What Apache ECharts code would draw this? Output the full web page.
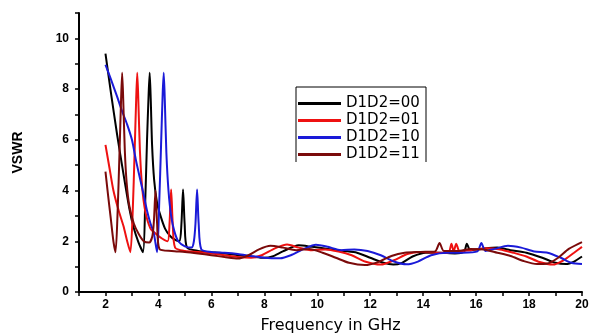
<!DOCTYPE html>
<html>
<head>
<meta charset="utf-8">
<script src="https://cdn.jsdelivr.net/npm/echarts@6/dist/echarts.min.js"></script>
<style>
  html, body { margin: 0; padding: 0; background: #fff; }
  #chart { width: 590px; height: 336px; }
</style>
</head>
<body>
<div id="chart"></div>
<script>
const seriesNames = ["D1D2=00", "D1D2=01", "D1D2=10", "D1D2=11"];

const freq00 = [2.0, 2.2, 2.44, 2.68, 2.9, 3.06, 3.25, 3.42, 3.5, 3.57, 3.63, 3.67, 3.71, 3.76, 3.84, 3.95, 4.08, 4.25, 4.45, 4.65, 4.8, 4.87, 4.93, 4.99, 5.08, 5.5, 6, 6.5, 7, 7.5, 8, 8.3, 8.7, 9.3, 9.8, 10.4, 11, 11.5, 12, 12.5, 12.87, 13.2, 13.6, 14.1, 14.6, 15.2, 15.55, 15.65, 15.78, 16.2, 16.8, 17.3, 17.9, 18.5, 19, 19.4, 19.7, 20];
const vswr00 = [9.4, 7.9, 6.2, 4.65, 3.3, 2.55, 1.95, 1.57, 3.5, 6.0, 7.8, 8.64, 7.6, 5.8, 4.4, 3.5, 3.0, 2.5, 2.2, 2.05, 2.0, 2.7, 4.04, 2.7, 1.75, 1.62, 1.57, 1.52, 1.45, 1.4, 1.35, 1.4, 1.6, 1.84, 1.78, 1.7, 1.62, 1.55, 1.35, 1.15, 1.08, 1.15, 1.4, 1.55, 1.55, 1.52, 1.6, 1.9, 1.65, 1.7, 1.75, 1.65, 1.55, 1.35, 1.15, 1.1, 1.2, 1.4];

const freq01 = [2.0, 2.15, 2.3, 2.5, 2.68, 2.82, 2.94, 3.03, 3.1, 3.16, 3.2, 3.24, 3.3, 3.38, 3.5, 3.7, 3.9, 4.15, 4.35, 4.42, 4.48, 4.54, 4.63, 5, 5.5, 6, 6.5, 7, 7.5, 7.9, 8.4, 8.86, 9.3, 9.8, 10.3, 10.8, 11.3, 11.8, 12.4, 12.9, 13.4, 13.9, 14.5, 14.95, 15.07, 15.15, 15.25, 15.38, 15.8, 16.4, 16.9, 17.4, 17.9, 18.4, 18.9, 19.3, 19.7, 20];
const vswr01 = [5.8, 4.9, 4.0, 3.2, 2.6, 2.0, 1.57, 3.2, 5.5, 7.6, 8.64, 7.6, 5.6, 4.2, 3.2, 2.5, 2.3, 2.1, 2.0, 2.7, 4.04, 2.7, 1.75, 1.62, 1.58, 1.52, 1.45, 1.38, 1.35, 1.45, 1.72, 1.87, 1.75, 1.65, 1.68, 1.6, 1.45, 1.2, 1.08, 1.25, 1.5, 1.58, 1.55, 1.55, 1.9, 1.6, 1.9, 1.6, 1.65, 1.72, 1.68, 1.55, 1.4, 1.18, 1.08, 1.25, 1.55, 1.78];

const freq10 = [2.0, 2.2, 2.44, 2.62, 2.82, 3.0, 3.15, 3.32, 3.45, 3.57, 3.7, 3.82, 3.95, 4.03, 4.1, 4.16, 4.2, 4.24, 4.3, 4.38, 4.48, 4.6, 4.75, 5.0, 5.25, 5.34, 5.4, 5.46, 5.52, 5.62, 6, 6.5, 7, 7.5, 8, 8.6, 9.0, 9.5, 9.95, 10.4, 10.9, 11.4, 11.9, 12.4, 12.9, 13.38, 13.8, 14.3, 14.9, 15.5, 16.05, 16.2, 16.35, 16.7, 17.2, 17.7, 18.2, 18.7, 19.2, 19.6, 20];
const vswr10 = [8.96, 8.4, 7.7, 7.15, 6.6, 6.0, 5.2, 4.4, 3.8, 3.2, 2.7, 2.35, 1.57, 3.5, 5.8, 7.8, 8.64, 7.6, 5.5, 4.0, 3.0, 2.4, 2.0, 1.8, 1.75, 2.0, 2.7, 4.04, 2.7, 1.68, 1.58, 1.55, 1.5, 1.42, 1.35, 1.33, 1.45, 1.7, 1.86, 1.78, 1.65, 1.68, 1.62, 1.45, 1.2, 1.09, 1.2, 1.45, 1.55, 1.55, 1.6, 1.93, 1.62, 1.7, 1.82, 1.75, 1.6, 1.55, 1.35, 1.15, 1.1];

const freq11 = [2.0, 2.1, 2.2, 2.3, 2.38, 2.46, 2.53, 2.59, 2.63, 2.67, 2.73, 2.8, 2.9, 3.07, 3.25, 3.45, 3.65, 3.77, 3.83, 3.89, 3.95, 4.04, 4.5, 5, 5.5, 6, 6.5, 7, 7.4, 7.8, 8.23, 8.7, 9.2, 9.7, 10.2, 10.7, 11.2, 11.8, 12.3, 12.8, 13.3, 13.9, 14.45, 14.62, 14.78, 15.3, 15.8, 16.3, 16.8, 17.3, 17.8, 18.3, 18.7, 19.1, 19.5, 20];
const vswr11 = [4.75, 3.8, 2.9, 2.0, 1.57, 3.2, 5.5, 7.6, 8.64, 7.6, 5.6, 4.3, 3.4, 2.7, 2.3, 2.0, 1.95, 2.2, 2.8, 4.0, 2.7, 1.7, 1.62, 1.58, 1.52, 1.45, 1.38, 1.32, 1.45, 1.68, 1.82, 1.75, 1.65, 1.7, 1.55, 1.35, 1.15, 1.06, 1.18, 1.42, 1.55, 1.58, 1.6, 1.93, 1.62, 1.62, 1.7, 1.68, 1.55, 1.42, 1.22, 1.1, 1.12, 1.35, 1.7, 1.97];

const colors = ["#000000", "#ee1111", "#1a1ad8", "#7a0a0a"];
const freqs = [freq00, freq01, freq10, freq11];
const vswrs = [vswr00, vswr01, vswr10, vswr11];

const font = 'Arial, "Liberation Sans", sans-serif';
const wideFont = '"DejaVu Sans", Arial, sans-serif';

const chart = echarts.init(document.getElementById("chart"));
const option = {
  animation: false,
  backgroundColor: "#fff",
  grid: { left: 79, right: 8, top: 13, bottom: 44, outerBoundsMode: "none" },
  legend: {
    orient: "vertical",
    left: 298,
    top: 95,
    padding: 0,
    itemGap: 0,
    itemWidth: 43,
    itemHeight: 3,
    icon: "rect",
    data: seriesNames,
    textStyle: { fontFamily: wideFont, fontSize: 15, color: "#000", lineHeight: 17 },
  },
  graphic: [
    {
      type: "polyline",
      shape: { points: [[296, 162], [296, 87], [426, 87], [426, 162]] },
      style: { stroke: "#000", lineWidth: 1, fill: null },
      silent: true,
    },
  ],
  xAxis: {
    type: "value",
    min: 1,
    max: 20,
    interval: 1,
    name: "Frequency in GHz",
    nameLocation: "middle",
    nameGap: 26,
    nameTextStyle: { fontFamily: wideFont, fontSize: 16, color: "#000" },
    axisLine: { lineStyle: { color: "#000", width: 2 } },
    axisTick: { length: 4, lineStyle: { color: "#000", width: 1.5 } },
    axisLabel: {
      margin: 7,
      fontFamily: font,
      fontSize: 12,
      fontWeight: "bold",
      color: "#000",
      formatter: function (v) { return v % 2 === 0 ? String(v) : ""; },
    },
    splitLine: { show: false },
  },
  yAxis: {
    type: "value",
    min: 0,
    max: 11,
    interval: 1,
    name: "VSWR",
    nameLocation: "middle",
    nameGap: 54,
    nameRotate: 90,
    nameTextStyle: { fontFamily: font, fontSize: 14, fontWeight: "bold", color: "#000" },
    axisLine: { show: true, lineStyle: { color: "#000", width: 2 } },
    axisTick: { show: true, length: 4, lineStyle: { color: "#000", width: 1.5 } },
    axisLabel: {
      margin: 10,
      fontFamily: font,
      fontSize: 12,
      fontWeight: "bold",
      color: "#000",
      formatter: function (v) { return v % 2 === 0 ? String(v) : ""; },
    },
    splitLine: { show: false },
  },
  series: seriesNames.map(function (name, i) {
    return {
      name: name,
      type: "line",
      showSymbol: false,
      symbol: "none",
      smooth: 0.25,
      color: colors[i],
      lineStyle: { color: colors[i], width: 2 },
      data: freqs[i].map(function (f, j) { return [f, vswrs[i][j]]; }),
    };
  }),
};
chart.setOption(option);
</script>
</body>
</html>
